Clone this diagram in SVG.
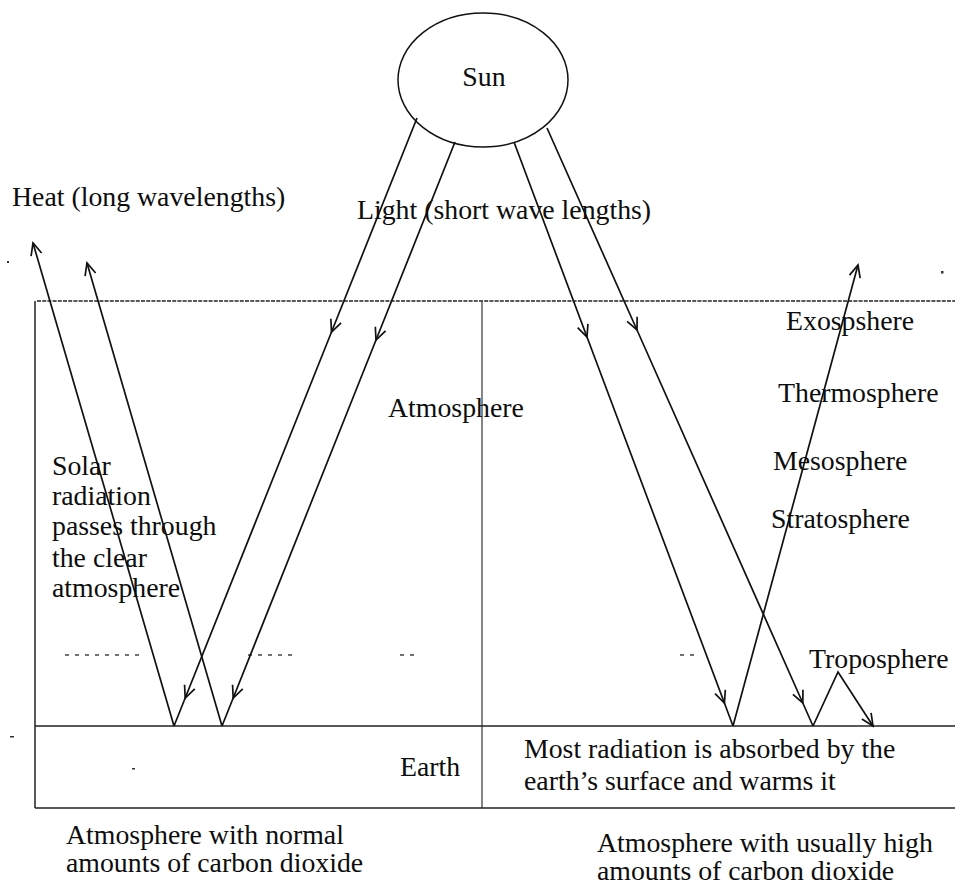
<svg xmlns="http://www.w3.org/2000/svg" width="955" height="890" viewBox="0 0 955 890">
  <style>
    text { font-family: "Liberation Serif", "Times New Roman", serif; font-size: 27.8px; fill: #0d0d0d; }
    .ray { fill: none; stroke: #111; stroke-width: 1.7; }
    .frame { fill: none; stroke: #222; stroke-width: 1.5; }
    .dotted { fill: none; stroke: #222; stroke-width: 1.5; stroke-dasharray: 4 1.2; }
    .faint { fill: none; stroke: #444; stroke-width: 1.3; }
  </style>
  <defs>
    <marker id="vee" markerUnits="userSpaceOnUse" markerWidth="16" markerHeight="14" viewBox="-14 -7 16 14" refX="0" refY="0" orient="auto">
      <path d="M-12,-5.5 L0,0 L-12,5.5" fill="none" stroke="#111" stroke-width="1.7"/>
    </marker>
  </defs>

  <rect width="955" height="890" fill="#fff"/>

  <!-- frame of the two panels -->
  <g id="frame">
    <line class="dotted" x1="37" y1="301" x2="955" y2="301"/>
    <line class="frame" x1="35" y1="301" x2="35" y2="808"/>
    <line class="faint" x1="482" y1="301" x2="482" y2="808"/>
    <line class="frame" x1="35" y1="726" x2="955" y2="726"/>
    <line class="frame" x1="35" y1="808" x2="955" y2="808"/>
    <!-- tropopause, broken dashes -->
    <path class="faint" stroke-dasharray="4 6" d="M65,655 H142 M248,655 H296 M400,655 H416 M680,655 H694"/>
  </g>

  <g id="sun">
    <ellipse cx="483" cy="80" rx="85" ry="67" fill="none" stroke="#111" stroke-width="1.5"/>
    <text x="484" y="86" text-anchor="middle">Sun</text>
  </g>

  <!-- radiation paths -->
  <g id="connectors">
    <!-- incoming light, left panel -->
    <polyline class="ray" points="417,118 331.5,332 185.2,698 174,726" marker-mid="url(#vee)"/>
    <polyline class="ray" points="455,142 376,340 233.2,698 222,726" marker-mid="url(#vee)"/>
    <!-- incoming light, right panel -->
    <polyline class="ray" points="514,142 587,337 724.4,703 733,726" marker-mid="url(#vee)"/>
    <polyline class="ray" points="547,128 637,330 802.8,703 813,726" marker-mid="url(#vee)"/>
    <!-- outgoing heat -->
    <line class="ray" x1="174" y1="726" x2="33" y2="243" marker-end="url(#vee)"/>
    <line class="ray" x1="222" y1="726" x2="87" y2="263" marker-end="url(#vee)"/>
    <line class="ray" x1="733" y1="726" x2="858" y2="265" marker-end="url(#vee)"/>
    <polyline class="ray" points="813,726 838,672 873,726" marker-end="url(#vee)"/>
  </g>

  <g id="labels">
    <text x="12" y="206">Heat (long wavelengths)</text>
    <text x="357" y="219">Light (short wave lengths)</text>
    <text x="388" y="417">Atmosphere</text>
    <text x="52" y="475">Solar</text>
    <text x="52" y="505">radiation</text>
    <text x="52" y="535">passes through</text>
    <text x="52" y="567">the clear</text>
    <text x="52" y="597">atmosphere</text>
    <text x="400" y="776">Earth</text>
    <text x="524" y="758">Most radiation is absorbed by the</text>
    <text x="524" y="790">earth’s surface and warms it</text>
  </g>

  <g id="layers">
    <text x="786" y="330">Exospshere</text>
    <text x="778" y="402">Thermosphere</text>
    <text x="773" y="470">Mesosphere</text>
    <text x="771" y="528">Stratosphere</text>
    <text x="809" y="668">Troposphere</text>
  </g>

  <g id="captions">
    <text x="66" y="844">Atmosphere with normal</text>
    <text x="66" y="872">amounts of carbon dioxide</text>
    <text x="597" y="852">Atmosphere with usually high</text>
    <text x="597" y="880">amounts of carbon dioxide</text>
  </g>

  <!-- stray print specks -->
  <g id="specks" fill="#333">
    <rect x="7" y="261" width="2" height="2"/>
    <rect x="10" y="736" width="4" height="1.5"/>
    <rect x="132" y="768" width="3" height="1.5"/>
    <rect x="941" y="271" width="2.5" height="2.5"/>
  </g>
</svg>
